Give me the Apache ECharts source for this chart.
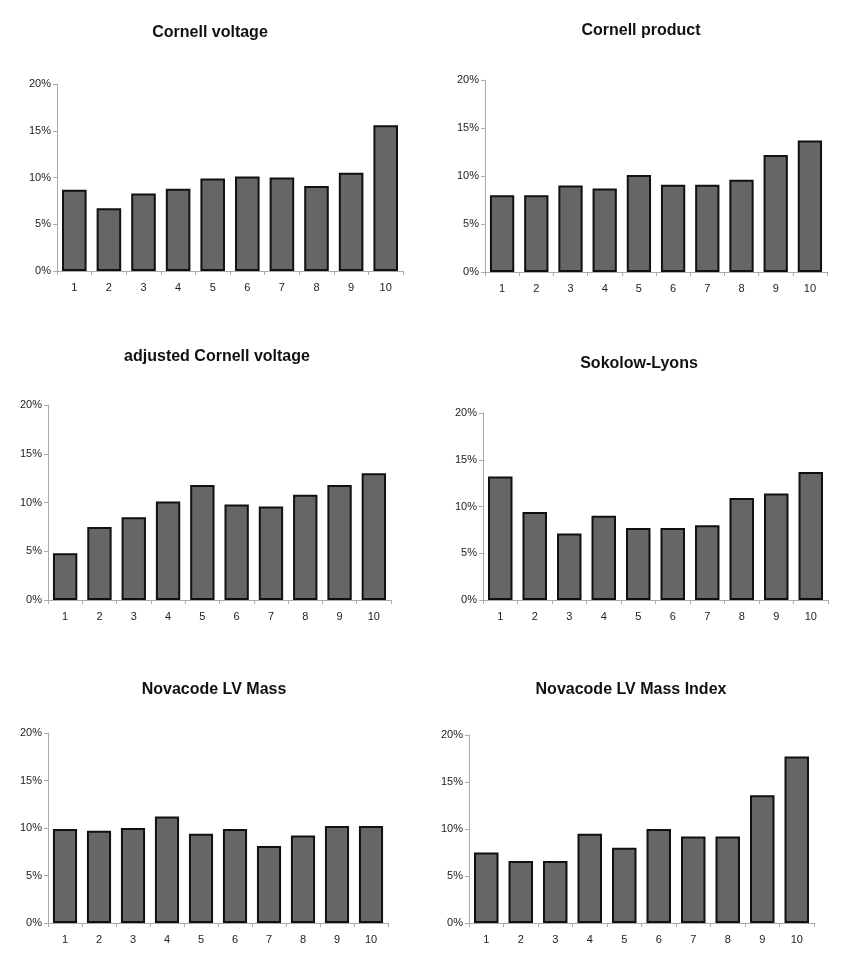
<!DOCTYPE html>
<html>
<head>
<meta charset="utf-8">
<script src="https://cdn.jsdelivr.net/npm/echarts@6/dist/echarts.min.js"></script>
<style>
html,body{margin:0;padding:0;background:#fff;}
#chart{width:845px;height:966px;}
</style>
</head>
<body>
<div id="chart"></div>
<script>
const categories = ['1','2','3','4','5','6','7','8','9','10'];
const yTicks = [0, 0.05, 0.10, 0.15, 0.20];
const cornellVoltage = [0.087, 0.067, 0.083, 0.088, 0.099, 0.101, 0.100, 0.091, 0.105, 0.156];
const cornellProduct = [0.080, 0.080, 0.090, 0.087, 0.101, 0.091, 0.091, 0.096, 0.122, 0.137];
const adjustedCornellVoltage = [0.048, 0.075, 0.085, 0.101, 0.118, 0.098, 0.096, 0.108, 0.118, 0.130];
const sokolowLyons = [0.132, 0.094, 0.071, 0.090, 0.077, 0.077, 0.080, 0.109, 0.114, 0.137];
const novacodeLVMass = [0.099, 0.097, 0.100, 0.112, 0.094, 0.099, 0.081, 0.092, 0.102, 0.102];
const novacodeLVMassIndex = [0.075, 0.066, 0.066, 0.095, 0.080, 0.100, 0.092, 0.092, 0.136, 0.177];
const titles = ['Cornell voltage', 'Cornell product', 'adjusted Cornell voltage', 'Sokolow-Lyons', 'Novacode LV Mass', 'Novacode LV Mass Index'];
const seriesData = [cornellVoltage, cornellProduct, adjustedCornellVoltage, sokolowLyons, novacodeLVMass, novacodeLVMassIndex];

// layout: [left, right edge, top, bottom edge], title center [x, y]
const panels = [
  {g:[57, 403, 84, 271], t:[210, 31]},
  {g:[485, 827, 80, 272], t:[641, 29]},
  {g:[48, 391, 405, 600], t:[217, 355]},
  {g:[483, 828, 413, 600], t:[639, 362]},
  {g:[48, 388, 733, 923], t:[214, 688]},
  {g:[469, 814, 735, 923], t:[631, 688]}
];

const font = 'Liberation Sans, Arial, sans-serif';
const option = {
  backgroundColor: '#fff',
  animation: false,
  title: [], grid: [], xAxis: [], yAxis: [], series: []
};
panels.forEach((p, i) => {
  option.title.push({
    text: titles[i], left: p.t[0] - 5, top: p.t[1] - 11, textAlign: 'center',
    textStyle: {fontFamily: font, fontSize: 16, fontWeight: 'bold', color: '#111'}
  });
  option.grid.push({left: p.g[0], width: p.g[1] - p.g[0], top: p.g[2], height: p.g[3] - p.g[2], containLabel: false});
  option.xAxis.push({
    type: 'category', gridIndex: i, data: categories,
    axisLine: {lineStyle: {color: '#aaa', width: 1}},
    axisTick: {show: true, alignWithLabel: false, length: 4, lineStyle: {color: '#aaa'}},
    axisLabel: {color: '#222', fontSize: 11, fontFamily: font, margin: 11}
  });
  option.yAxis.push({
    type: 'value', gridIndex: i, min: yTicks[0], max: yTicks[yTicks.length - 1], interval: 0.05,
    splitLine: {show: false},
    axisLine: {show: true, lineStyle: {color: '#aaa', width: 1}},
    axisTick: {show: true, length: 4, lineStyle: {color: '#aaa'}},
    axisLabel: {color: '#222', fontSize: 11, fontFamily: font, margin: 6,
      formatter: v => Math.round(v * 100) + '%'}
  });
  option.series.push({
    type: 'bar', xAxisIndex: i, yAxisIndex: i, data: seriesData[i],
    barCategoryGap: '29%',
    itemStyle: {color: '#666666', borderColor: '#111', borderWidth: 2}
  });
});
const chart = echarts.init(document.getElementById('chart'), null, {renderer: 'canvas'});
chart.setOption(option);
</script>
</body>
</html>
